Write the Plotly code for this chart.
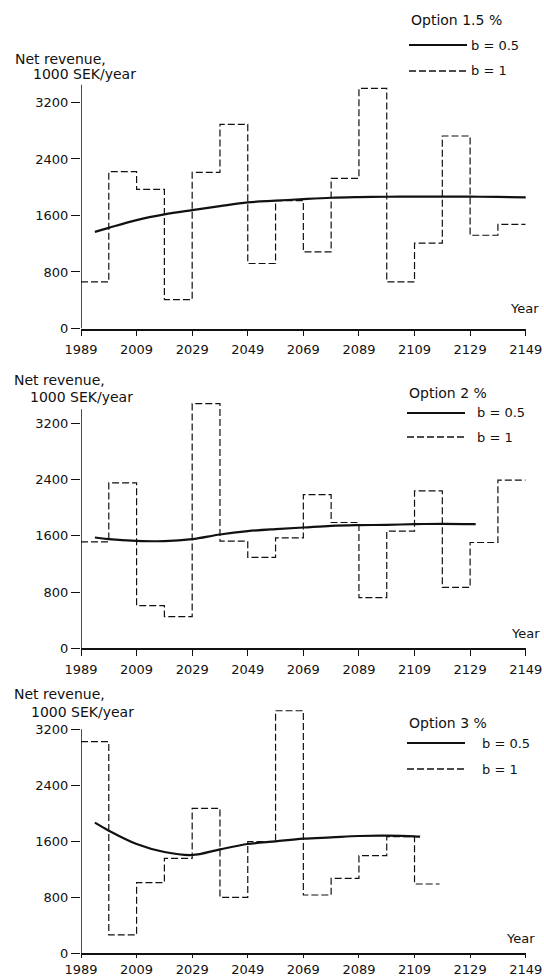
import plotly.graph_objects as go

# ---------------- data ----------------
step_edges_p1 = [1989, 1999, 2009, 2019, 2029, 2039, 2049, 2059, 2069, 2079,
                 2089, 2099, 2109, 2119, 2129, 2139, 2149]
p1_b1 = [660, 2220, 1970, 410, 2210, 2890, 920, 1810, 1085, 2125,
         3400, 660, 1210, 2725, 1320, 1475]
p1_b05_years = [1994, 1999, 2009, 2019, 2029, 2039, 2049, 2059, 2069, 2079,
                2089, 2099, 2109, 2119, 2129, 2139, 2150]
p1_b05 = [1368, 1425, 1534, 1615, 1676, 1733, 1785, 1809, 1832, 1851,
          1860, 1865, 1866, 1866, 1866, 1862, 1855]

step_edges_p2 = [1989, 1999, 2009, 2019, 2029, 2039, 2049, 2059, 2069, 2079,
                 2089, 2099, 2109, 2119, 2129, 2139, 2149]
p2_b1 = [1515, 2353, 606, 450, 3480, 1524, 1292, 1572, 2187, 1789,
         720, 1666, 2239, 866, 1505, 2391]
p2_b05_years = [1994, 1999, 2009, 2019, 2029, 2039, 2049, 2059, 2069, 2079,
                2089, 2099, 2109, 2119, 2131]
p2_b05 = [1576, 1553, 1529, 1524, 1553, 1619, 1666, 1695, 1718, 1742,
          1752, 1756, 1766, 1770, 1766]

step_edges_p3 = [1989, 1999, 2009, 2019, 2029, 2039, 2049, 2059, 2069, 2079,
                 2089, 2099, 2109, 2118]
p3_b1 = [3023, 262, 1009, 1357, 2071, 800, 1595, 3465, 833, 1071,
         1395, 1666, 990]
p3_b05_years = [1994, 1999, 2009, 2019, 2029, 2039, 2049, 2059, 2069, 2079,
                2089, 2099, 2109, 2111]
p3_b05 = [1866, 1752, 1561, 1447, 1404, 1485, 1561, 1599, 1637, 1656,
          1676, 1680, 1671, 1666]

x_ticks = [1989, 2009, 2029, 2049, 2069, 2089, 2109, 2129, 2149]
y_ticks = [0, 800, 1600, 2400, 3200]
options = ["Option 1.5 %", "Option 2 %", "Option 3 %"]
label_b05 = ["b = 0.5", "b = 0.5", "b = 0.5"]
label_b1 = ["b = 1", "b = 1", "b = 1"]
y_title_1 = "Net revenue,"
y_title_2 = "1000 SEK/year"
x_title = "Year"
yaxis_tops = [3450, 3400, 3200]

# ---------------- layout helpers ----------------
W, H = 544, 977
FONT = "DejaVu Sans"
INK = "#111111"


def px(x):
    return x / W


def py(y):
    return 1 - y / H


# panel geometry (pixels)
y_range = [0, 3600]
panels = [
    dict(zero=328.5, top=74.2, title_y=(59, 74), title_x=(13, 31),
         leg=(409, 20, 45, 71, 469), year=(508, 308), standoff=2, xticklen=6),
    dict(zero=648.3, top=395.2, title_y=(380, 397), title_x=(12, 28),
         leg=(407, 393, 413, 437, 475), year=(509, 633), standoff=2, xticklen=6),
    dict(zero=953.3, top=701.3, title_y=(694, 712), title_x=(12, 29),
         leg=(407, 723, 743, 769, 480), year=(504, 938), standoff=0, xticklen=3),
]
x_dom = [px(81), px(525.7)]

steps = [(step_edges_p1, p1_b1), (step_edges_p2, p2_b1), (step_edges_p3, p3_b1)]
curves = [(p1_b05_years, p1_b05), (p2_b05_years, p2_b05), (p3_b05_years, p3_b05)]

fig = go.Figure()
shapes = []
annotations = []

for i, p in enumerate(panels):
    n = "" if i == 0 else str(i + 1)
    xa, ya = "x" + n, "y" + n
    edges, vals = steps[i]
    fig.add_trace(go.Scatter(
        x=edges, y=list(vals) + [vals[-1]], mode="lines", line_shape="hv",
        line=dict(color=INK, width=1.2, dash="7px,3px"),
        xaxis=xa, yaxis=ya, showlegend=False, hoverinfo="skip"))
    cx, cy = curves[i]
    fig.add_trace(go.Scatter(
        x=cx, y=cy, mode="lines", line_shape="spline",
        line=dict(color=INK, width=2.2),
        xaxis=xa, yaxis=ya, showlegend=False, hoverinfo="skip"))

    fig.layout["xaxis" + n] = dict(
        domain=x_dom, range=[1989, 2149], anchor=ya, automargin=False,
        tickvals=x_ticks, ticks="outside", ticklen=p["xticklen"], tickwidth=1.2,
        tickcolor=INK, showline=True, linecolor=INK, linewidth=1.5,
        showgrid=False, zeroline=False, ticklabelstandoff=p["standoff"],
        tickfont=dict(family=FONT, size=13, color=INK))
    fig.layout["yaxis" + n] = dict(
        domain=[py(p["zero"]), py(p["top"])], range=y_range, anchor=xa,
        automargin=False,
        tickvals=y_ticks, ticks="outside", ticklen=9, tickwidth=1.2,
        tickcolor=INK, showline=False, showgrid=False, zeroline=False,
        tickfont=dict(family=FONT, size=13, color=INK))

    # y axis line
    shapes.append(dict(type="line", xref=xa, yref=ya, x0=1989, x1=1989,
                       y0=0, y1=yaxis_tops[i],
                       line=dict(color=INK, width=1.5)))

    # axis titles
    ty1, ty2 = p["title_y"]
    tx1, tx2 = p["title_x"]
    annotations.append(dict(text=y_title_1, xref="paper", yref="paper",
                            x=px(tx1), y=py(ty1), xanchor="left", yanchor="middle",
                            showarrow=False, font=dict(family=FONT, size=14, color=INK)))
    annotations.append(dict(text=y_title_2, xref="paper", yref="paper",
                            x=px(tx2), y=py(ty2), xanchor="left", yanchor="middle",
                            showarrow=False, font=dict(family=FONT, size=14, color=INK)))
    yx, yy = p["year"]
    annotations.append(dict(text=x_title, xref="paper", yref="paper",
                            x=px(yx), y=py(yy), xanchor="left", yanchor="middle",
                            showarrow=False, font=dict(family=FONT, size=13, color=INK)))

    # legend block
    lx, oy, sy, dy, tx = p["leg"]
    annotations.append(dict(text=options[i], xref="paper", yref="paper",
                            x=px(lx), y=py(oy), xanchor="left", yanchor="middle",
                            showarrow=False, font=dict(family=FONT, size=14, color=INK)))
    shapes.append(dict(type="line", xref="paper", yref="paper",
                       x0=px(lx), x1=px(lx + 58), y0=py(sy), y1=py(sy),
                       line=dict(color=INK, width=2)))
    shapes.append(dict(type="line", xref="paper", yref="paper",
                       x0=px(lx), x1=px(lx + 58), y0=py(dy), y1=py(dy),
                       line=dict(color=INK, width=1.3, dash="7px,3px")))
    annotations.append(dict(text=label_b05[i], xref="paper", yref="paper",
                            x=px(tx), y=py(sy), xanchor="left", yanchor="middle",
                            showarrow=False, font=dict(family=FONT, size=13, color=INK)))
    annotations.append(dict(text=label_b1[i], xref="paper", yref="paper",
                            x=px(tx), y=py(dy), xanchor="left", yanchor="middle",
                            showarrow=False, font=dict(family=FONT, size=13, color=INK)))

fig.update_layout(
    width=W, height=H, margin=dict(l=0, r=0, t=0, b=0, autoexpand=False),
    paper_bgcolor="white", plot_bgcolor="white",
    shapes=shapes, annotations=annotations,
    font=dict(family=FONT, size=13, color=INK),
)

fig.write_html(
    "out.html",
    config={"displayModeBar": False},
    post_script="document.body.style.margin='0';document.body.style.overflow='hidden';",
)
